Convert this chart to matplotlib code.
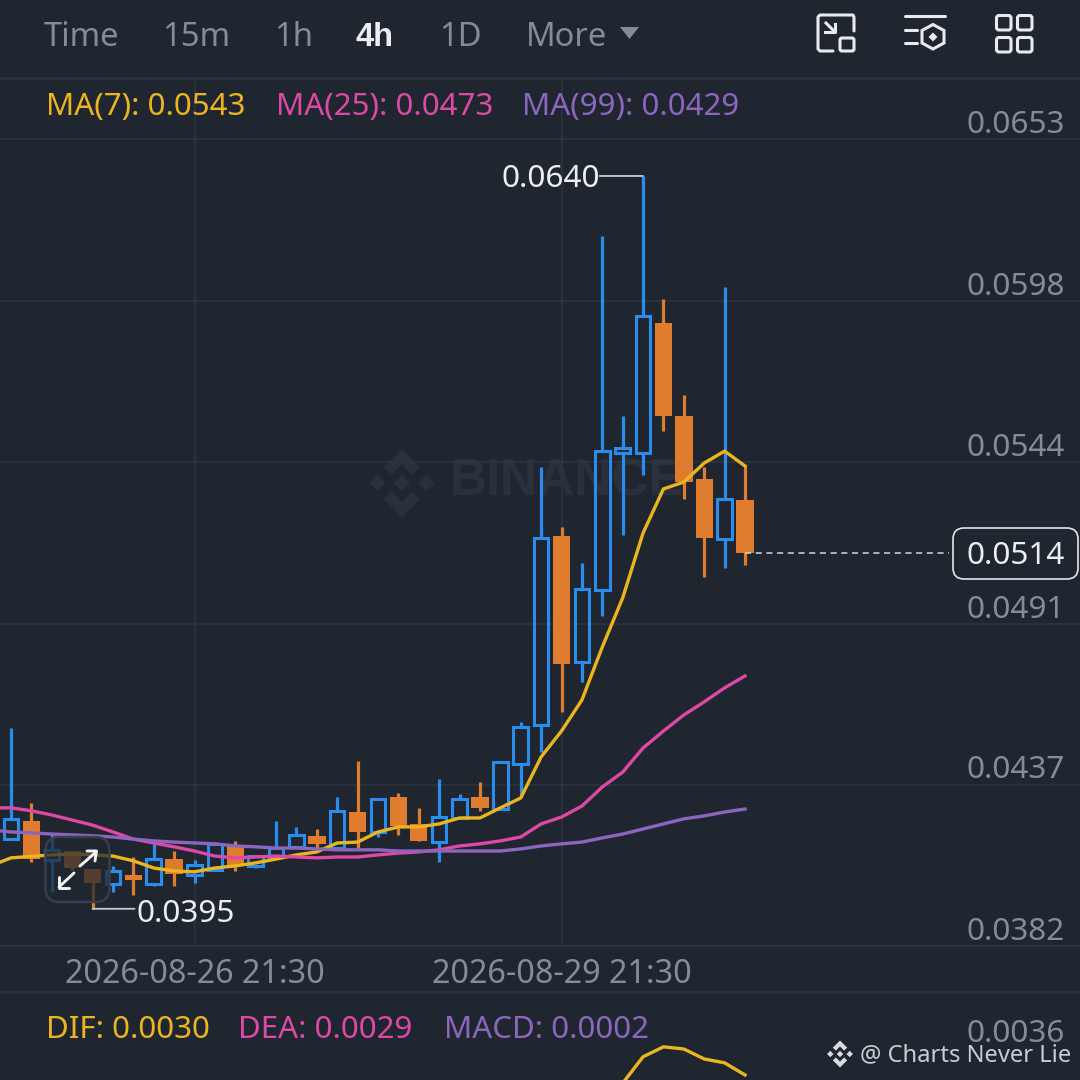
import matplotlib
matplotlib.use("Agg")
import matplotlib.pyplot as plt
from matplotlib.patches import FancyBboxPatch, Polygon
from matplotlib.transforms import ScaledTranslation

plt.rcParams['font.family'] = ['Noto Sans', 'DejaVu Sans']

# ---- data ----
candle_index = list(range(-1, 37))
opens = [.04109, .04179, .04240, .04109, .04139, .04079, .04028, .04059, .04028, .04112, .04059, .04075, .04159,
         .04089, .04119, .04153, .04190, .04149, .04270, .04203, .04321, .04230, .04169, .04250, .04321, .04280,
         .04431, .04562, .05197, .04774, .05016, .05476, .05476, .05912, .05600, .05388, .05187, .05318]
highs = [.04176, .04552, .04300, .04200, .04139, .04079, .04089, .04119, .04163, .04139, .04109, .04169, .04173,
         .04122, .04240, .04220, .04213, .04321, .04441, .04314, .04334, .04284, .04381, .04331, .04371, .04441,
         .04572, .05429, .05227, .05106, .06204, .05600, .06406, .05993, .05670, .05429, .06033, .05432]
lows = [.04109, .04179, .04102, .04002, .04075, .03945, .04002, .03991, .04022, .04022, .04032, .04072, .04072,
        .04082, .04119, .04153, .04149, .04149, .04143, .04186, .04193, .04173, .04102, .04250, .04274, .04280,
        .04321, .04472, .04606, .04707, .04928, .05200, .05402, .05550, .05321, .05059, .05090, .05100]
closes = [.04176, .04247, .04112, .04143, .04082, .04032, .04072, .04042, .04112, .04062, .04092, .04163, .04092,
          .04122, .04149, .04193, .04163, .04274, .04203, .04314, .04223, .04173, .04253, .04314, .04284, .04438,
          .04556, .05190, .04767, .05019, .05482, .05492, .05936, .05600, .05378, .05190, .05321, .05140]
ma7 = [.04089, .04116, .04121, .04126, .04129, .04126, .04122, .04106, .04082, .04072, .04069, .04082, .04089,
       .04099, .04112, .04126, .04136, .04166, .04169, .04203, .04220, .04220, .04230, .04250, .04250, .04284,
       .04317, .04455, .04542, .04646, .04824, .04989, .05207, .05355, .05378, .05442, .05482, .05432]
ma25 = [.04284, .04284, .04274, .04260, .04243, .04226, .04203, .04179, .04166, .04153, .04139, .04122, .04116,
        .04119, .04122, .04119, .04116, .04119, .04119, .04126, .04132, .04136, .04143, .04156, .04163, .04173,
        .04186, .04230, .04253, .04290, .04354, .04404, .04485, .04542, .04596, .04640, .04687, .04727]
ma99 = [.04210, .04203, .04200, .04196, .04193, .04190, .04186, .04179, .04173, .04169, .04166, .04163, .04156,
        .04153, .04149, .04149, .04146, .04143, .04143, .04143, .04139, .04139, .04139, .04139, .04139, .04139,
        .04146, .04156, .04163, .04169, .04183, .04196, .04213, .04230, .04247, .04257, .04270, .04280]
dif_index = [30, 31, 32, 33, 34, 35, 36]
dif = [.00281, .00342, .00365, .00360, .00337, .00328, .00300]

price_ticks = [.03820, .04361, .04901, .05445, .05986, .06530]
price_labels = ['0.0382', '0.0437', '0.0491', '0.0544', '0.0598', '0.0653']
date_ticks = [9, 27]
date_labels = ['2026-08-26 21:30', '2026-08-29 21:30']
tabs = ['Time', '15m', '1h', '4h', '1D', 'More']
high_label, low_label, last_label = '0.0640', '0.0395', '0.0514'
ma_legend = ['MA(7): 0.0543', 'MA(25): 0.0473', 'MA(99): 0.0429']
macd_legend = ['DIF: 0.0030', 'DEA: 0.0029', 'MACD: 0.0002']
macd_tick, macd_tick_label = 0.0036, '0.0036'

# ---- style ----
BG = '#1F2630'
GRID = '#2E3540'
SEP = '#2B323D'
BLUE = '#2B8DEB'
ORANGE = '#DF7C2D'
YELLOW = '#EBB520'
PINK = '#DE48A6'
PURPLE = '#8C66BE'
GRAY = '#858C98'
WHITE = '#ECEEF1'
W = H = 1080
FS = 22.7

fig = plt.figure(figsize=(W / 100, H / 100), dpi=100, facecolor=BG)


def px_axes(rect, z):
    a = fig.add_axes(rect, zorder=z)
    a.set_xlim(0, W)
    a.set_ylim(H, 0)
    a.axis('off')
    return a


def logo(a, cx, cy, r, color, z=1):
    d = 0.24
    for dx in (-0.72, 0, 0.72):
        a.add_patch(Polygon([(cx + (dx - d) * r, cy), (cx + dx * r, cy - d * r),
                             (cx + (dx + d) * r, cy), (cx + dx * r, cy + d * r)], fc=color, ec='none', zorder=z))
    for s in (-1, 1):
        pts = [(0, 1), (.53, .47), (.31, .25), (0, .56), (-.31, .25), (-.53, .47)]
        a.add_patch(Polygon([(cx + x * r, cy + s * y * r) for x, y in pts], fc=color, ec='none', zorder=z))


# background layer: watermark
bg = px_axes([0, 0, 1, 1], 0)
logo(bg, 402, 483, 34, '#2A313C')
bg.text(450, 482, 'BINANCE', color='#2A313C', fontsize=37, fontfamily='Liberation Sans', fontweight='bold',
        va='center', ha='left')

# price axes
top_px, bot_px = 78, 946
ax = fig.add_axes([0, 1 - bot_px / H, 1, (bot_px - top_px) / H], zorder=1)
ax.patch.set_alpha(0)
ax.set_xlim(-0.54, 52.43)
ax.set_ylim(0.03820, 0.06735)
for s in ('left', 'right'):
    ax.spines[s].set_visible(False)
ax.spines['top'].set_color(SEP)
ax.spines['bottom'].set_color(GRID)
ax.spines['top'].set_linewidth(2)
ax.spines['bottom'].set_linewidth(1.1)
ax.set_axisbelow(True)
ax.grid(True, color=GRID, lw=1.1)

ax.yaxis.tick_right()
ax.set_yticks(price_ticks, price_labels)
ax.set_xticks(date_ticks, date_labels)
ax.tick_params(axis='y', length=0, pad=-10.8, labelsize=FS, labelcolor=GRAY)
ax.tick_params(axis='x', length=0, pad=8.5, labelsize=23.3, labelcolor=GRAY)
for t in ax.yaxis.get_major_ticks():
    t.label2.set_horizontalalignment('right')
    t.label2.set_verticalalignment('center')
    t.label2.set_transform(t.label2.get_transform() + ScaledTranslation(0, 14.5 / 100, fig.dpi_scale_trans))

# candles
for i, o, h, l, c in zip(candle_index, opens, highs, lows, closes):
    if c >= o:
        ax.bar(i, c - o, bottom=o, width=0.71, fill=False, edgecolor=BLUE, linewidth=2.2, zorder=3)
        ax.vlines(i, c, h, color=BLUE, lw=2.3, zorder=3)
        ax.vlines(i, l, o, color=BLUE, lw=2.3, zorder=3)
    else:
        ax.bar(i, o - c, bottom=c, width=0.85, color=ORANGE, linewidth=0, zorder=3)
        ax.vlines(i, l, h, color=ORANGE, lw=2.3, zorder=3)

# moving averages
ax.plot(candle_index, ma7, color=YELLOW, lw=2.4, zorder=4)
ax.plot(candle_index, ma25, color=PINK, lw=2.4, zorder=4)
ax.plot(candle_index, ma99, color=PURPLE, lw=2.4, zorder=4)

# hi / lo annotations and last price
line_style = dict(arrowstyle='-', color='#C8CBD0', lw=1.3, shrinkA=0, shrinkB=0)
ax.annotate(high_label, xy=(31, max(highs)), xytext=(-43.5, -3), textcoords='offset pixels', ha='right', va='center',
            color=WHITE, fontsize=FS)
ax.annotate('', xy=(31, max(highs)), xytext=(-43.5, 0), textcoords='offset pixels', arrowprops=line_style)
ax.annotate(low_label, xy=(4, min(lows)), xytext=(43.5, -5), textcoords='offset pixels', ha='left', va='center',
            color=WHITE, fontsize=FS)
ax.annotate('', xy=(4, min(lows)), xytext=(42, 0), textcoords='offset pixels', arrowprops=line_style)
ax.plot([candle_index[-1], 46], [closes[-1], closes[-1]], color='#D5D8DC', lw=1.1, ls=(0, (4, 3)), zorder=3)

# MACD pane
ax2 = fig.add_axes([0, 0, 1, (H - 992) / H], zorder=1)
ax2.patch.set_alpha(0)
ax2.set_xlim(ax.get_xlim())
ax2.set_ylim(0.0036 - (1080 - 1049) * 2.31e-5, 0.0036 + (1049 - 992) * 2.31e-5)
for s in ax2.spines.values():
    s.set_visible(False)
ax2.spines['top'].set_visible(True)
ax2.spines['top'].set_color(SEP)
ax2.spines['top'].set_linewidth(2)
ax2.set_xticks([])
ax2.yaxis.tick_right()
ax2.set_yticks([macd_tick], [macd_tick_label])
ax2.tick_params(axis='y', length=0, pad=-10.8, labelsize=FS, labelcolor=GRAY)
for t in ax2.yaxis.get_major_ticks():
    t.label2.set_horizontalalignment('right')
    t.label2.set_verticalalignment('center')
    t.label2.set_transform(t.label2.get_transform() + ScaledTranslation(0, 14.5 / 100, fig.dpi_scale_trans))
ax2.plot(dif_index, dif, color=YELLOW, lw=2.4)

# chrome
top = px_axes([0, 0, 1, 1], 5)
tab_x = [44, 162, 274, 355, 439, 526]
for s, x in zip(tabs, tab_x):
    if s == '4h':
        top.text(x, 37, s, color=WHITE, fontsize=23.5, fontfamily='Liberation Sans', fontweight='bold', ha='left', va='center')
    else:
        top.text(x, 38, s, color=GRAY, fontsize=23.6, ha='left', va='center')
top.add_patch(Polygon([(620, 27), (639, 27), (629.5, 39)], fc=GRAY, ec='none'))

for s, x, c in zip(ma_legend, [46, 276, 522], [YELLOW, PINK, PURPLE]):
    top.text(x, 107, s, color=c, fontsize=22.5, ha='left', va='center')
for s, x, c in zip(macd_legend, [46, 238, 444], [YELLOW, PINK, PURPLE]):
    top.text(x, 1030, s, color=c, fontsize=22.5, ha='left', va='center')

# last price tag
top.add_patch(FancyBboxPatch((953, 528), 125, 51, boxstyle='round,pad=0,rounding_size=11', fc=BG, ec='#E4E6E9', lw=1.2))
top.text(1016, 556, last_label, color=WHITE, fontsize=FS, ha='center', va='center')

# expand button
top.add_patch(FancyBboxPatch((45.5, 837), 64, 65, boxstyle='round,pad=0,rounding_size=14', fc=BG, alpha=0.72, ec='none'))
top.add_patch(FancyBboxPatch((45.5, 837), 64, 65, boxstyle='round,pad=0,rounding_size=14', fc='none', ec='#383F4A', lw=1.8))
for xs, ys in [([80, 96], [866, 852]), ([87, 96.5, 95], [851, 851, 861]), ([74, 59], [873, 887]), ([59, 59, 69], [877, 887.5, 887.5])]:
    top.plot(xs, ys, color='#F2F3F5', lw=2.1, solid_capstyle='round', solid_joinstyle='round')

ICON = '#E8EAED'
# icon 1
top.plot([854, 854, 853, 820, 818, 818, 820, 833], [31, 17, 15, 15, 17, 49, 51, 51], color=ICON, lw=2.2, solid_capstyle='round')
top.add_patch(FancyBboxPatch((840, 38), 14, 13, boxstyle='round,pad=0,rounding_size=2', fc='none', ec=ICON, lw=2.2))
top.plot([826, 835], [23, 32], color=ICON, lw=2.2)
top.plot([835, 835, 825], [24, 32, 32], color=ICON, lw=2.2)
# icon 2
top.plot([905, 945], [16, 16], color=ICON, lw=2.2, solid_capstyle='round')
top.plot([905, 917], [30, 30], color=ICON, lw=2.2, solid_capstyle='round')
top.plot([905, 917], [43, 43], color=ICON, lw=2.2, solid_capstyle='round')
top.add_patch(Polygon([(933, 24.5), (944, 30.5), (944, 43), (933, 49), (922, 43), (922, 30.5)], closed=True, fc='none', ec=ICON, lw=2.2))
top.add_patch(Polygon([(933, 32.5), (937.5, 37), (933, 41.5), (928.5, 37)], fc=ICON, ec='none'))
# icon 3
for x in (996.5, 1017.5):
    for y in (15.5, 37.5):
        top.add_patch(FancyBboxPatch((x, y), 14.5, 14.5, boxstyle='round,pad=0,rounding_size=2.5', fc='none', ec=ICON, lw=2.2))

# signature
logo(top, 840, 1054, 13.5, '#D9DCE0')
top.text(860, 1055, '@ Charts Never Lie', color='#C9CDD3', fontsize=17.1, ha='left', va='center')

fig.savefig('out.png', dpi=100, facecolor=BG)
